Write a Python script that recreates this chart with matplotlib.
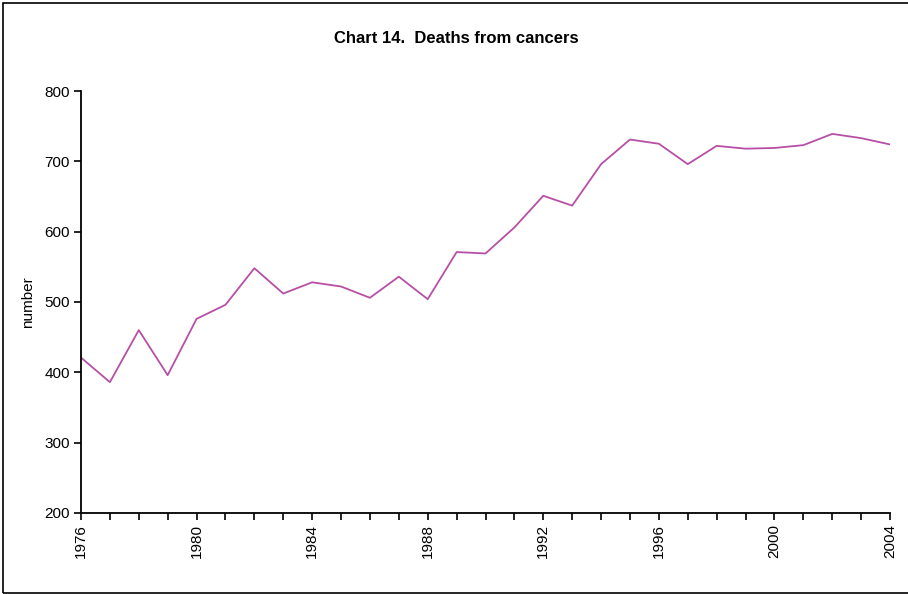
import matplotlib
matplotlib.use("Agg")
import matplotlib.pyplot as plt
from matplotlib.patches import Rectangle

plt.rcParams['font.family'] = ['Liberation Sans', 'DejaVu Sans']

# -----------------------------
# data
# -----------------------------
years = list(range(1976, 2005))
deaths = [421, 386, 460, 396, 476, 496, 548, 512, 528, 522,
          506, 536, 504, 571, 569, 606, 651, 637, 696, 731,
          725, 696, 722, 718, 719, 723, 739, 733, 724]
label_years = list(range(1976, 2005, 4))

fig = plt.figure(figsize=(9.08, 5.94), dpi=100)
ax = fig.add_axes([0.0892, 0.1364, 0.8910, 0.7104])

ax.plot(years, deaths, color="#B84FA6", lw=1.3)

ax.set_xlim(1976, 2004)
ax.set_ylim(200, 800)
ax.set_yticks([200, 300, 400, 500, 600, 700, 800])
ax.set_xticks(years, minor=False)
ax.set_xticklabels([str(y) if y in label_years else "" for y in years], rotation=90)

for s in ["top", "right"]:
    ax.spines[s].set_visible(False)
for s in ["left", "bottom"]:
    ax.spines[s].set_linewidth(1.3)
ax.tick_params(axis="both", direction="out", length=5, width=1.2, labelsize=11, pad=3)

ax.set_ylabel("number", fontsize=11, labelpad=7)
fig.text(0.502, 0.936, "Chart 14.  Deaths from cancers", ha="center", va="center",
         fontsize=12, fontweight="bold")

# outer frame round the chart
fig.patches.append(Rectangle((3 / 908, 1 / 594), 1.0, 590 / 594, transform=fig.transFigure,
                             fill=False, edgecolor="black", lw=1.2))

fig.savefig("out.png", dpi=100)
